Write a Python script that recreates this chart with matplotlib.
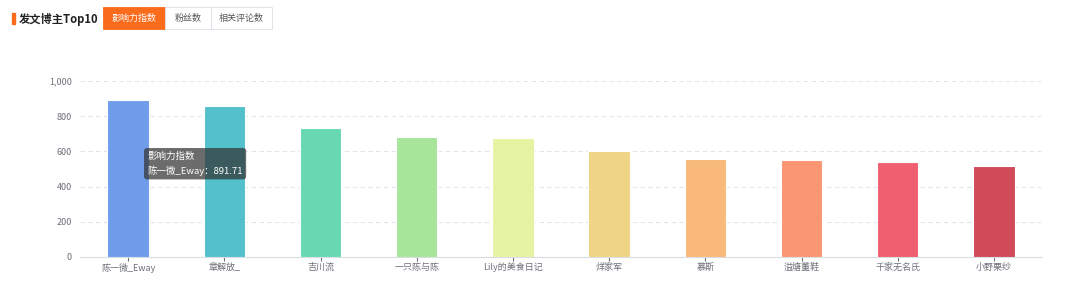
#Importing libraries
import numpy as np
import matplotlib.pyplot as plt
from matplotlib.patches import Rectangle

plt.rcParams['font.family'] = ['Noto Sans CJK SC', 'DejaVu Sans']

#Chart data
bloggers = ['陈一微_Eway', '章解放_', '吉川流', '一只陈与陈', 'Lily的美食日记',
            '烊家军', '慕斯', '溢塘董鞋', '千家无名氏', '小野栗纱']
influence = [891.71, 856, 733, 680, 674, 604, 558, 553, 541, 519]
colors = ['#6f9deb', '#53c0cc', '#67d8b2', '#a6e59a', '#e6f3a2',
          '#efd485', '#f8b97a', '#fb9673', '#ef5f6f', '#d04a5a']
yticks = [0, 200, 400, 600, 800, 1000]
ytick_labels = ['0', '200', '400', '600', '800', '1,000']
tabs = ['影响力指数', '粉丝数', '相关评论数']

fig = plt.figure(figsize=(10.8, 2.85), dpi=100)
ax = fig.add_axes([80/1080, 1-257/285, 962/1080, 176/285])

x = np.arange(len(bloggers))
ax.bar(x, influence, width=0.43, color=colors, edgecolor='white', linewidth=0.8, zorder=3)

ax.set_xlim(-0.5, len(bloggers)-0.5)
ax.set_ylim(0, 1000)
ax.set_yticks(yticks)
ax.set_yticklabels(ytick_labels)
ax.set_xticks(x)
ax.set_xticklabels(bloggers)
ax.tick_params(axis='y', length=0, labelsize=6.5, labelcolor='#6e7079', pad=6)
ax.tick_params(axis='x', length=3, color='#6e7079', labelsize=6.5, labelcolor='#6e7079', pad=1)
ax.grid(axis='y', color='#e0e6f1', linestyle=(0, (4, 3)), linewidth=0.8, zorder=0)
for s in ['top', 'right', 'left']:
    ax.spines[s].set_visible(False)
ax.spines['bottom'].set_color('#d8dce3')

#Tooltip
ax.text(0.2, 530, '影响力指数\n' + bloggers[0] + '：' + str(influence[0]),
        fontsize=6.8, color='white', va='center', ha='left', linespacing=1.6, zorder=5,
        bbox=dict(boxstyle='round,pad=0.35,rounding_size=0.3', facecolor=(0.2, 0.2, 0.2, 0.72),
                  edgecolor='none'))

#Header
fig.patches.append(Rectangle((12/1080, 1-24/285), 2.5/1080, 11/285, transform=fig.transFigure,
                             color='#fa6b1c', zorder=2))
fig.text(19/1080, 1-19/285, '发文博主Top10', fontsize=8.1, fontweight='bold', color='#222222',
         va='center', ha='left')
tab_x = [103, 165, 211, 272]
for i, t in enumerate(tabs):
    x0 = tab_x[i]/1080
    w = (tab_x[i+1]-tab_x[i])/1080
    active = i == 0
    fig.patches.append(Rectangle((x0, 1-29/285), w, 22/285, transform=fig.transFigure,
                                 facecolor='#fa6b1c' if active else 'white',
                                 edgecolor='#fa6b1c' if active else '#dcdfe6', linewidth=0.6))
    fig.text(x0 + w/2, 1-18/285, t, fontsize=6.5, color='white' if active else '#555555',
             ha='center', va='center')

plt.savefig('out.png', dpi=100)
